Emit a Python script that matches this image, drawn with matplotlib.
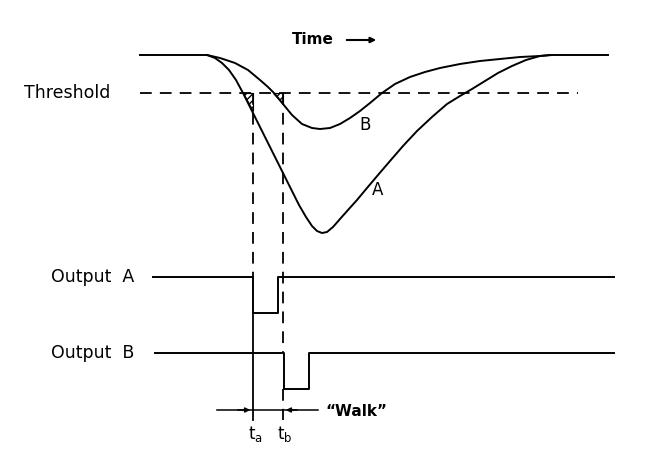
import matplotlib.pyplot as plt
from matplotlib.patches import Polygon

# pulse shapes (x, y in picture pixels, y grows downward)
curve_a_x = [140, 200, 207, 215, 222, 229, 236, 243, 250, 257, 264, 271, 278, 285, 292,
             299, 306, 312, 317, 322, 327, 333, 340, 348, 357, 367, 378, 390, 403, 417,
             432, 447, 460, 472, 485, 498, 512, 526, 540, 552, 608]
curve_a_y = [55, 55, 55, 58, 63, 70, 80, 93, 107, 121, 135, 149, 163, 177, 191,
             205, 217, 226, 231, 233, 232, 227, 219, 210, 200, 188, 175, 161, 146, 131,
             117, 104, 96, 89, 81, 73, 66, 60, 56, 55, 55]

curve_b_x = [207, 220, 235, 248, 260, 268, 275, 283, 292, 302, 312, 320, 330, 340, 350,
             360, 370, 382, 395, 410, 425, 440, 460, 480, 500, 520, 540, 550]
curve_b_y = [55, 58, 63, 70, 80, 87, 94, 104, 115, 124, 128, 129, 128, 124, 118,
             111, 103, 93, 84, 77, 72, 68, 64, 61, 59, 57, 56, 55]

threshold_y = 93
t_a = 253
t_b = 283

# discriminator outputs
out_a_x = [153, 253, 253, 278, 278, 614]
out_a_y = [277, 277, 313, 313, 277, 277]
out_b_x = [155, 284, 284, 309, 309, 614]
out_b_y = [353, 353, 389, 389, 353, 353]

fig = plt.figure(figsize=(6.45, 4.55), dpi=100)
ax = fig.add_axes([0, 0, 1, 1])
ax.set_xlim(0, 645)
ax.set_ylim(455, 0)
ax.axis("off")

lw = 1.4
dash = (0, (6.5, 4.5))

ax.plot(curve_a_x, curve_a_y, color="black", lw=lw, solid_joinstyle="round")
ax.plot(curve_b_x, curve_b_y, color="black", lw=lw, solid_joinstyle="round")

# threshold line
ax.plot([140, 578], [threshold_y, threshold_y], color="black", lw=1.3, linestyle=dash)

# hatched triangles where the curves cross threshold
tri_a = Polygon([[243, 93], [253, 93], [253, 111]], closed=True, facecolor="none",
                edgecolor="black", hatch="/////", lw=0.8)
tri_b = Polygon([[273, 93], [283, 93], [283, 104]], closed=True, facecolor="none",
                edgecolor="black", hatch="/////", lw=0.8)
ax.add_patch(tri_a)
ax.add_patch(tri_b)

# vertical timing lines
ax.plot([t_a, t_a], [threshold_y, 277], color="black", lw=1.3, linestyle=dash)
ax.plot([t_a, t_a], [313, 420], color="black", lw=1.3)
ax.plot([t_b, t_b], [threshold_y, 353], color="black", lw=1.3, linestyle=dash)
ax.plot([t_b, t_b], [389, 420], color="black", lw=1.3, linestyle=dash)

ax.plot(out_a_x, out_a_y, color="black", lw=lw)
ax.plot(out_b_x, out_b_y, color="black", lw=lw)

# walk marker
ax.plot([217, 318], [410, 410], color="black", lw=1.1)
ax.annotate("", xy=(t_a, 410), xytext=(235, 410),
            arrowprops=dict(arrowstyle="-|>", color="black", lw=1.1, mutation_scale=7))
ax.annotate("", xy=(t_b, 410), xytext=(300, 410),
            arrowprops=dict(arrowstyle="-|>", color="black", lw=1.1, mutation_scale=7))

# labels
fs = 11
ax.text(292, 40, "Time", fontsize=fs, fontweight="bold", va="center", ha="left")
ax.annotate("", xy=(379, 40), xytext=(344, 40),
            arrowprops=dict(arrowstyle="-|>", color="black", lw=1.5, mutation_scale=8))
ax.text(24, 93, "Threshold", fontsize=12.5, va="center", ha="left")
ax.text(51, 277, "Output  A", fontsize=12.5, va="center", ha="left")
ax.text(51, 353, "Output  B", fontsize=12.5, va="center", ha="left")
ax.text(365, 125, "B", fontsize=12, va="center", ha="center")
ax.text(378, 190, "A", fontsize=12, va="center", ha="center")
ax.text(325, 411, "\u201cWalk\u201d", fontsize=fs, fontweight="bold", va="center", ha="left")
ax.text(t_a + 2, 434, r"$\mathrm{t_a}$", fontsize=fs + 1, va="center", ha="center")
ax.text(t_b + 2, 434, r"$\mathrm{t_b}$", fontsize=fs + 1, va="center", ha="center")

fig.savefig("out.png", dpi=100)
